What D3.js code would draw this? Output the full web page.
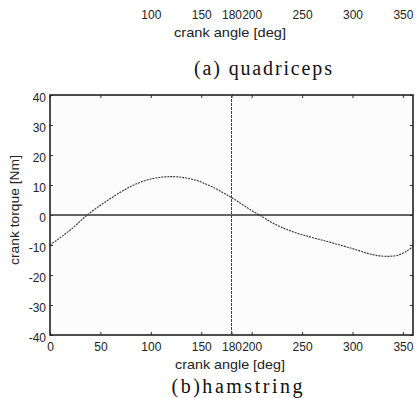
<!DOCTYPE html>
<html lang="en">
<head>
    <meta charset="utf-8">
    <script src="https://d3js.org/d3.v7.min.js"></script>
    <style>
        body { margin: 0; background: #fff; }
        .tick text { font-family: "Liberation Sans", Arial, sans-serif; font-size: 12px; fill: #222; }
        .axis-title { font-family: "Liberation Sans", Arial, sans-serif; font-size: 13px; fill: #222; }
        .caption { font-family: "Liberation Serif", "DejaVu Serif", serif; font-size: 20px; fill: #111; }
    </style>
</head>
<body>
    <div id="chart"></div>
    <script>
        // hamstring crank torque over one crank revolution
        const crankAngle = [0, 20, 37, 60, 80, 100, 120, 140, 160, 180, 200, 210, 220, 240, 260, 280, 300, 320, 335, 345, 352, 360];
        const crankTorque = [-10, -5, 0, 5.5, 9.5, 12, 12.8, 12, 9.5, 5.8, 1.5, -0.5, -2.5, -5.5, -7.5, -9.3, -11.2, -13.2, -13.8, -13.4, -12.4, -10.5];

        const xTicks = [0, 50, 100, 150, 180, 200, 250, 300, 350];
        const yTicks = [40, 30, 20, 10, 0, -10, -20, -30, -40];
        const upperPanelTicks = [100, 150, 180, 200, 250, 300, 350];

        const width = 417;
        const height = 398;
        const plot = { left: 50, right: 413, top: 95, bottom: 335 };

        const svg = d3.select("#chart")
            .append("svg")
            .attr("width", width)
            .attr("height", height);

        const xScale = d3.scaleLinear().domain([0, 360]).range([plot.left, plot.right]);
        const yScale = d3.scaleLinear().domain([-40, 40]).range([plot.bottom, plot.top]);
        const plain = d => String(d);

        // tail of panel (a) visible at the top of the crop
        svg.append("g")
            .attr("transform", "translate(0,10)")
            .call(d3.axisBottom(xScale).tickValues(upperPanelTicks).tickSize(0).tickPadding(0).tickFormat(plain))
            .call(g => g.select(".domain").remove());

        svg.append("text")
            .attr("class", "axis-title")
            .attr("text-anchor", "middle")
            .attr("x", 230)
            .attr("y", 37)
            .attr("textLength", 112)
            .attr("lengthAdjust", "spacingAndGlyphs")
            .text("crank angle [deg]");

        svg.append("text")
            .attr("class", "caption")
            .attr("text-anchor", "middle")
            .attr("x", 263)
            .attr("y", 75)
            .attr("textLength", 138)
            .attr("lengthAdjust", "spacing")
            .text("(a) quadriceps");

        // panel (b)
        svg.append("rect")
            .attr("x", plot.left)
            .attr("y", plot.top)
            .attr("width", plot.right - plot.left)
            .attr("height", plot.bottom - plot.top)
            .attr("fill", "#fcfcfc");

        svg.append("g")
            .attr("transform", "translate(0," + plot.bottom + ")")
            .call(d3.axisBottom(xScale).tickValues(xTicks).tickSize(-3).tickPadding(7).tickFormat(plain))
            .call(g => g.select(".domain").remove());

        svg.append("g")
            .attr("transform", "translate(0," + plot.top + ")")
            .call(d3.axisTop(xScale).tickValues(xTicks).tickSize(-3).tickFormat(""))
            .call(g => g.select(".domain").remove());

        svg.append("g")
            .attr("transform", "translate(" + plot.left + ",0)")
            .call(d3.axisLeft(yScale).tickValues(yTicks).tickSize(-3).tickPadding(4).tickFormat(plain))
            .call(g => g.select(".domain").remove())
            .call(g => g.selectAll(".tick text").attr("dy", "0.55em"));

        svg.append("g")
            .attr("transform", "translate(" + plot.right + ",0)")
            .call(d3.axisRight(yScale).tickValues(yTicks).tickSize(-3).tickFormat(""))
            .call(g => g.select(".domain").remove());

        svg.selectAll(".tick line").attr("stroke", "#333");

        svg.append("rect")
            .attr("x", plot.left)
            .attr("y", plot.top)
            .attr("width", plot.right - plot.left)
            .attr("height", plot.bottom - plot.top)
            .attr("fill", "none")
            .attr("stroke", "#222")
            .attr("stroke-width", 1.6);

        // zero line and 180 deg marker
        svg.append("line")
            .attr("x1", plot.left).attr("x2", plot.right)
            .attr("y1", yScale(0)).attr("y2", yScale(0))
            .attr("stroke", "#333")
            .attr("stroke-width", 1.4);

        svg.append("line")
            .attr("x1", xScale(180)).attr("x2", xScale(180))
            .attr("y1", plot.top).attr("y2", plot.bottom)
            .attr("stroke", "#444")
            .attr("stroke-width", 1)
            .attr("stroke-dasharray", "3,1");

        const points = crankAngle.map((a, i) => ({ x: a, y: crankTorque[i] }));
        const line = d3.line()
            .x(d => xScale(d.x))
            .y(d => yScale(d.y))
            .curve(d3.curveMonotoneX);

        svg.append("path")
            .datum(points)
            .attr("d", line)
            .attr("fill", "none")
            .attr("stroke", "#333")
            .attr("stroke-width", 1.1)
            .attr("stroke-dasharray", "2,1");

        svg.append("text")
            .attr("class", "axis-title")
            .attr("text-anchor", "middle")
            .attr("transform", "rotate(-90)")
            .attr("x", -210)
            .attr("y", 19)
            .attr("textLength", 110)
            .attr("lengthAdjust", "spacingAndGlyphs")
            .text("crank torque [Nm]");

        svg.append("text")
            .attr("class", "axis-title")
            .attr("text-anchor", "middle")
            .attr("x", 230)
            .attr("y", 369)
            .attr("textLength", 110)
            .attr("lengthAdjust", "spacingAndGlyphs")
            .text("crank angle [deg]");

        svg.append("text")
            .attr("class", "caption")
            .attr("text-anchor", "middle")
            .attr("x", 237)
            .attr("y", 393)
            .attr("textLength", 131)
            .attr("lengthAdjust", "spacing")
            .text("(b)hamstring");
    </script>
</body>
</html>
